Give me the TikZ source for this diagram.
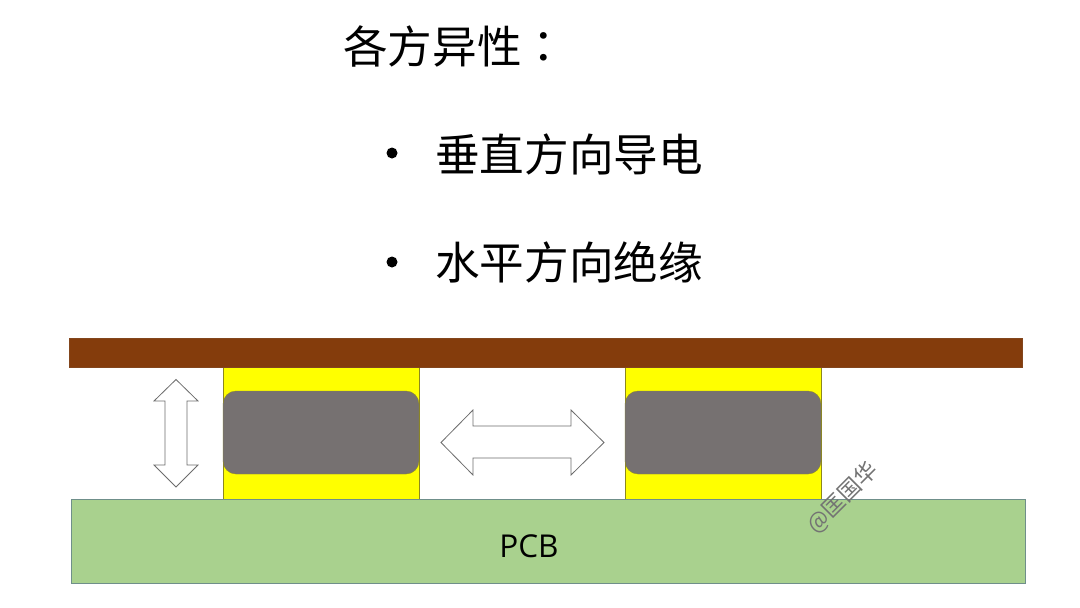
\documentclass[tikz,border=0pt]{standalone}
\usepackage{fontspec}
\setmainfont{Noto Sans CJK SC}
\newfontfamily\latinfont{Open Sans}
\newfontfamily\colonfont{Noto Sans CJK TC}
\definecolor{brownbar}{HTML}{843C0C}
\definecolor{padyellow}{HTML}{FFFF00}
\definecolor{ballgray}{HTML}{767171}
\definecolor{pcbgreen}{HTML}{A9D18E}
\definecolor{edgeblue}{HTML}{6F8F8A}
\tikzset{
  bar/.style={fill=brownbar,draw=brownbar!85!gray,line width=.6pt},
  pad/.style={fill=padyellow,draw=olive!80!gray,line width=.7pt},
  ball/.style={fill=ballgray,draw=olive!70!gray,line width=.4pt,rounded corners=13pt},
  board/.style={fill=pcbgreen,draw=edgeblue,line width=.9pt},
  twoway/.style={fill=white,draw=gray!85!black,line width=.8pt,line join=miter},
  heading/.style={font=\fontsize{44.6}{50}\selectfont,anchor=west,inner sep=0pt},
  pcbtext/.style={font=\latinfont\fontsize{31.5}{36}\selectfont,inner sep=0pt},
  bulletdot/.style={fill=black}
}
\begin{document}
\begin{tikzpicture}[x=1pt,y=-1pt]
\useasboundingbox (0,0) rectangle (1080,608);
\fill[white] (0,0) rectangle (1080,608);
\node[heading] (title) at (343,46) {各方异性{\colonfont ：}};
\node[heading] (l1) at (435,154) {垂直方向导电};
\node[heading] (l2) at (435,262) {水平方向绝缘};
\fill[bulletdot] (392,153) circle (5.5pt);
\fill[bulletdot] (392,262) circle (5.5pt);
\draw[pad] (223,367) rectangle (419,499);
\draw[pad] (625,367) rectangle (821,499);
\draw[bar] (69,338) rectangle (1022,367);
\draw[board] (71,499) rectangle (1025,583);
\node[pcbtext] (pcb) at (529,546) {PCB};
\draw[ball] (223,391) rectangle (419,474);
\draw[ball] (625,391) rectangle (821,474);
\draw[twoway] (176,379.5) -- (198,401) -- (187,401) -- (187,465) -- (198,465) -- (176,487) -- (154,465) -- (165,465) -- (165,401) -- (154,401) -- cycle;
\draw[twoway] (441,442.5) -- (473,410) -- (473,426) -- (571,426) -- (571,410) -- (604,442.5) -- (571,475) -- (571,458) -- (473,458) -- (473,475) -- cycle;
\node[rotate=45,text=black!55,font=\fontsize{22.5}{26}\selectfont,inner sep=0pt] (wm) at (843,498) {@匡国华};
\end{tikzpicture}
\end{document}
